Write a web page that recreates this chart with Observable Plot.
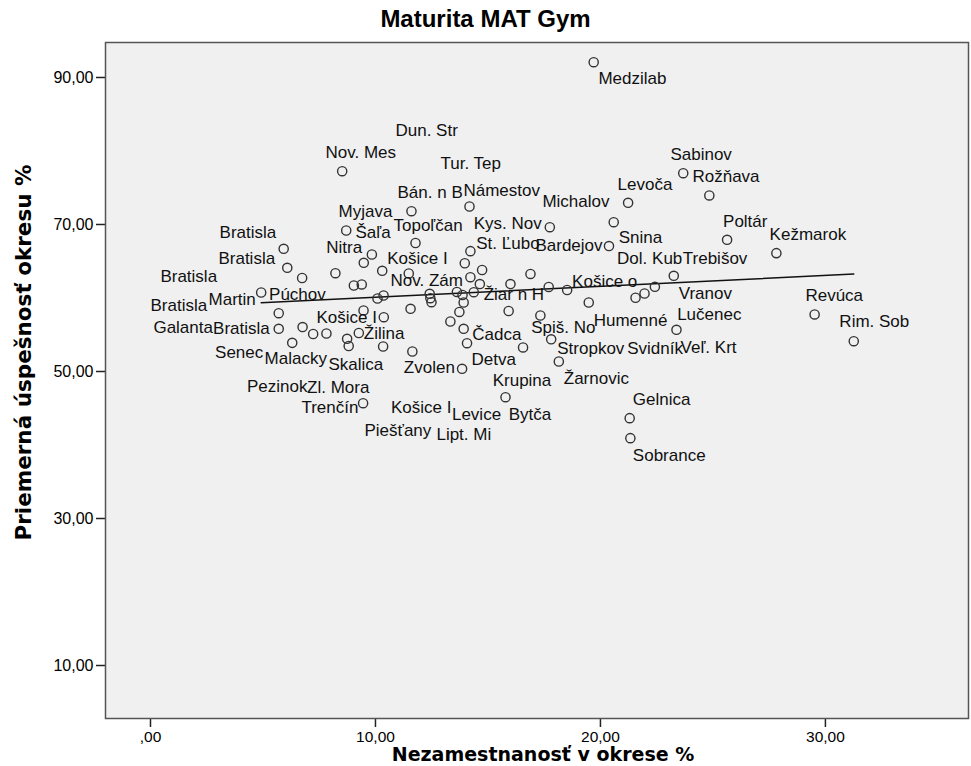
<!DOCTYPE html>
<html><head><meta charset="utf-8">
<script src="https://cdn.jsdelivr.net/npm/d3@7"></script>
<script src="https://cdn.jsdelivr.net/npm/@observablehq/plot@0.6"></script>
<style>
body{margin:0;background:#fff;font-family:"Liberation Sans",Arial,sans-serif;}
#title{width:971px;height:38px;line-height:38px;text-align:center;font-size:24px;font-weight:bold;color:#000;}
</style></head><body>
<div id="title">Maturita MAT Gym</div>
<div id="chart"></div>
<script>
// Unemployment in district (%) and mean success rate (%)
const unemployment = [19.70, 8.52, 11.60, 14.18, 8.70, 11.78, 23.68, 24.84, 21.23, 20.59,
  17.75, 20.38, 25.63, 27.82, 23.26, 22.42, 21.96, 21.56, 23.38, 29.52,
  31.26, 21.30, 21.33, 19.48, 18.52, 17.70, 16.89, 16.00, 17.33, 15.92,
  17.81, 16.56, 18.15, 15.78, 13.85, 14.07, 13.92, 13.33, 13.73, 13.62,
  13.87, 13.92, 14.37, 14.64, 14.22, 14.74, 13.97, 14.22, 12.41, 12.44,
  12.49, 11.48, 11.56, 11.64, 10.36, 10.09, 10.30, 9.84, 9.48, 9.04,
  9.39, 8.22, 10.37, 9.47, 9.26, 8.74, 8.81, 10.34, 9.45, 7.82,
  7.23, 6.76, 6.30, 5.70, 5.70, 4.92, 6.74, 6.08, 5.92];
const score = [92.08, 77.25, 71.81, 72.45, 69.18, 67.48, 76.98, 73.95, 72.95, 70.31,
  69.63, 67.07, 67.92, 66.10, 63.02, 61.52, 60.61, 60.03, 55.67, 57.76,
  54.12, 43.65, 40.93, 59.39, 61.09, 61.50, 63.27, 61.90, 57.62, 58.23,
  54.38, 53.27, 51.36, 46.50, 50.37, 53.85, 55.81, 56.80, 58.10, 60.82,
  60.41, 59.39, 60.79, 61.90, 62.83, 63.81, 64.73, 66.37, 60.57, 59.97,
  59.43, 63.33, 58.53, 52.72, 60.34, 59.93, 63.70, 65.92, 64.79, 61.70,
  61.84, 63.37, 57.39, 58.30, 55.24, 54.45, 53.47, 53.40, 45.69, 55.17,
  55.10, 56.05, 53.90, 55.81, 57.93, 60.75, 62.72, 64.11, 66.69];

// District labels, anchored (start of text) in data units
const labelText = ["Medzilab","Dun. Str","Nov. Mes","Tur. Tep","Bán. n B","Námestov","Michalov","Levoča","Sabinov","Rožňava",
  "Myjava","Šaľa","Topoľčan","Kys. Nov","Bratisla","Bratisla","Bratisla","Bratisla","Martin","Púchov",
  "Galanta","Bratisla","Senec","Malacky","Skalica","Pezinok","Zl. Mora","Trenčín","Košice I","Levice",
  "Bytča","Piešťany","Lipt. Mi","Krupina","Detva","Zvolen","Čadca","Žilina","Košice I","Nitra",
  "Košice I","Nov. Zám","St. Ľubo","Bardejov","Snina","Dol. Kub","Trebišov","Poltár","Kežmarok","Žiar n H",
  "Košice o","Vranov","Lučenec","Revúca","Rim. Sob","Humenné","Spiš. No","Stropkov","Svidník","Veľ. Krt",
  "Žarnovic","Gelnica","Sobrance"];
const labelX = [19.91, 10.89, 7.78, 12.89, 10.98, 13.91, 17.42, 20.76, 23.11, 24.09,
  8.36, 9.11, 10.80, 14.37, 3.07, 3.02, 0.44, 0.00, 2.58, 5.27,
  0.13, 2.78, 2.87, 5.07, 7.91, 4.29, 6.96, 6.71, 10.69, 13.40,
  15.92, 9.51, 12.71, 15.21, 14.27, 11.26, 14.30, 9.48, 7.38, 7.81,
  10.52, 10.67, 14.48, 17.11, 20.81, 20.74, 23.66, 25.45, 27.52, 14.81,
  18.74, 23.48, 23.41, 29.11, 30.62, 19.70, 16.92, 18.08, 21.19, 23.56,
  18.37, 21.44, 21.44];
const labelY = [89.86, 82.79, 79.80, 78.30, 74.35, 74.63, 73.13, 75.44, 79.52, 76.46,
  71.70, 68.91, 69.86, 70.14, 68.84, 65.33, 62.93, 58.98, 59.80, 60.48,
  55.92, 55.81, 52.63, 51.77, 50.95, 47.96, 47.86, 45.06, 45.06, 44.15,
  44.15, 41.97, 41.43, 48.78, 51.63, 50.50, 55.03, 55.13, 57.31, 66.91,
  65.41, 62.38, 67.37, 67.14, 68.27, 65.33, 65.33, 70.45, 68.60, 60.48,
  62.29, 60.57, 57.71, 60.34, 56.84, 56.94, 55.95, 53.17, 53.17, 53.31,
  49.01, 46.19, 38.57];

const xTicks = [0, 10, 20, 30];
const yTicks = [10, 30, 50, 70, 90];
const xTitle = "Nezamestnanosť v okrese %";
const yTitle = "Priemerná úspešnosť okresu %";

const points = unemployment.map((u, i) => ({u, s: score[i]}));
const labels = labelText.map((t, i) => ({t, x: labelX[i], y: labelY[i]}));
const fmt = d => d === 0 ? ",00" : d.toFixed(2).replace(".", ",");
const titleFont = "'DejaVu Sans', 'Liberation Sans', sans-serif";

const chart = Plot.plot({
  width: 971,
  height: 728,
  marginTop: 4,
  marginLeft: 105,
  marginRight: 3,
  marginBottom: 48,
  style: {fontFamily: "'Liberation Sans', Arial, sans-serif", background: "#fff", color: "#000"},
  x: {domain: [-2, 36.36], ticks: xTicks, tickFormat: fmt, label: null},
  y: {domain: [2.79, 94.76], ticks: yTicks, tickFormat: fmt, label: null},
  marks: [
    Plot.frame({fill: "#f0f0f0", stroke: null}),
    Plot.axisX({ticks: xTicks, tickFormat: fmt, tickSize: 9, tickPadding: 3, fontSize: 15.5, label: null, stroke: "#222", strokeWidth: 1.5}),
    Plot.axisY({ticks: yTicks, tickFormat: fmt, tickSize: 9, tickPadding: 3, fontSize: 16, label: null, stroke: "#222", strokeWidth: 1.5}),
    Plot.linearRegressionY(points, {x: "u", y: "s", ci: 0, stroke: "#111", strokeWidth: 1.5}),
    Plot.dot(points, {x: "u", y: "s", r: 4.6, stroke: "#333", strokeWidth: 1.4, fill: "none"}),
    Plot.text(labels, {x: "x", y: "y", text: "t", textAnchor: "start", lineAnchor: "middle", fontSize: 17, fill: "#111"}),
    Plot.frame({stroke: "#555", strokeWidth: 1.5}),
    Plot.text([xTitle], {frameAnchor: "bottom", textAnchor: "middle", lineAnchor: "middle", dx: 6, dy: 36.5, fontSize: 19, fontWeight: "bold", fontFamily: titleFont, fill: "#000"}),
    Plot.text([yTitle], {frameAnchor: "left", textAnchor: "middle", rotate: -90, lineAnchor: "middle", dx: -81, dy: -28, fontSize: 21.5, fontWeight: "bold", fontFamily: titleFont, fill: "#000"})
  ]
});
document.getElementById("chart").appendChild(chart);
</script>
</body></html>
